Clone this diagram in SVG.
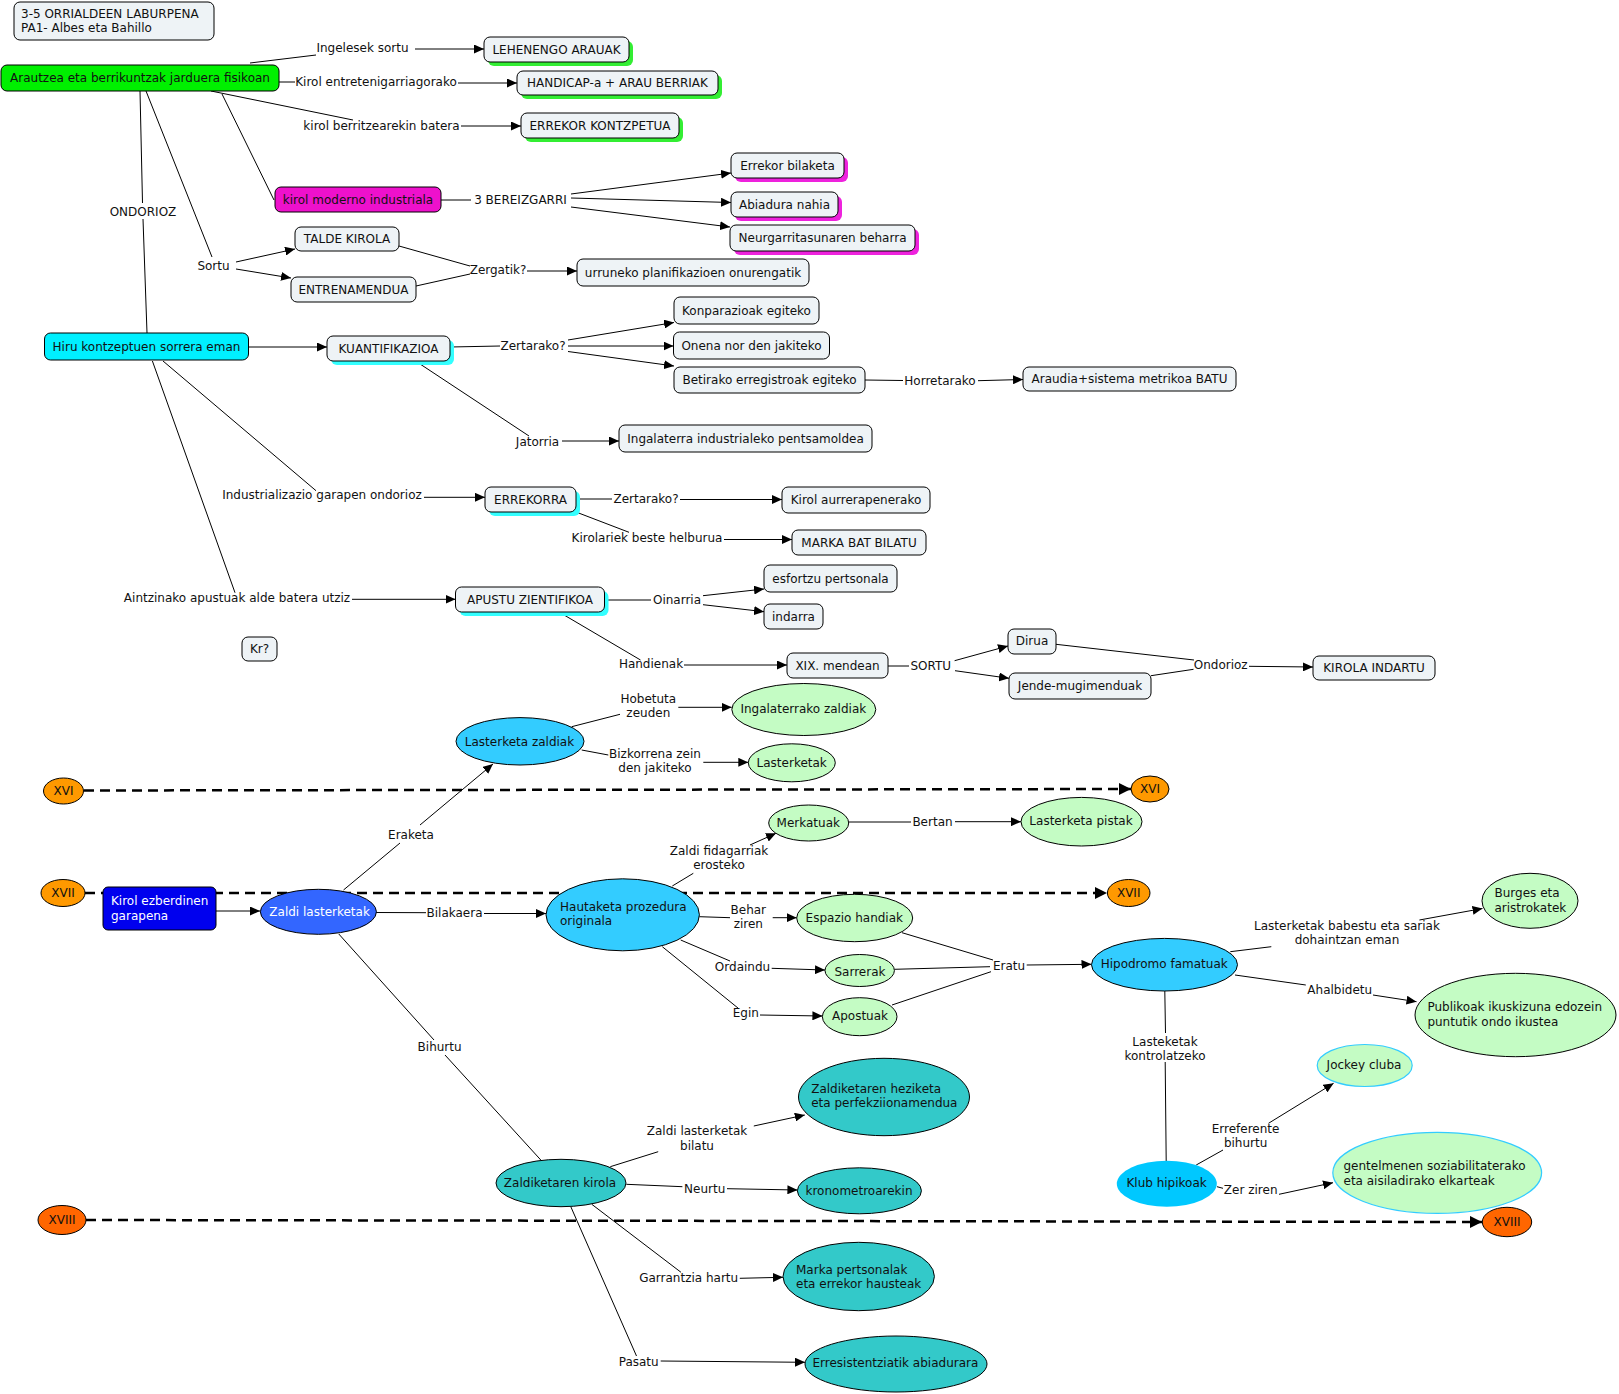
<svg xmlns="http://www.w3.org/2000/svg" width="1619" height="1394" viewBox="0 0 1619 1394">
<style>
text{font-family:"DejaVu Sans",Verdana,sans-serif;font-size:12px;fill:#111}
.c{text-anchor:middle}
.n{fill:#eef3f6;stroke:#000;stroke-width:1}
.sg{fill:#33ee33}.sm{fill:#ee22dd}.sc{fill:#33ffff}
.ln{stroke:#000;stroke-width:1;fill:none}
.ar{stroke:#000;stroke-width:1;fill:none;marker-end:url(#arr)}
.da{stroke:#000;stroke-width:2.5;fill:none;stroke-dasharray:10 6;marker-end:url(#arrd)}
.lg{fill:#c4fcc4;stroke:#000;stroke-width:1}
.tl{fill:#33c9c9;stroke:#000;stroke-width:1}
.cy{fill:#33ccff;stroke:#000;stroke-width:1}
.or{fill:#ff9900;stroke:#000;stroke-width:1}
.or2{fill:#ff6600;stroke:#000;stroke-width:1}
.w{fill:#fff}
</style>
<defs>
<marker id="arr" markerUnits="userSpaceOnUse" markerWidth="10" markerHeight="9" refX="10" refY="4.5" orient="auto"><path d="M0,0 L10,4.5 L0,9 z" fill="#000"/></marker>
<marker id="arrd" markerUnits="userSpaceOnUse" markerWidth="12" markerHeight="12" refX="12" refY="6" orient="auto"><path d="M0,0 L12,6 L0,12 z" fill="#000"/></marker>
</defs>
<rect width="1619" height="1394" fill="#fff"/>

<g id="timelines">
<path class="da" d="M84,790.5 L1131,789"/>
<path class="da" d="M85,893 L1107,893"/>
<path class="da" d="M86,1220 L1482,1222"/>
</g>

<g id="connectors">
<path class="ln" d="M250,63 L316,55"/><path class="ar" d="M415,49 L484,49"/>
<text class="c" x="362.5" y="52">Ingelesek sortu</text>
<path class="ln" d="M279,82 L295,82"/><path class="ar" d="M458,83 L517,83"/>
<text class="c" x="376" y="86">Kirol entretenigarriagorako</text>
<path class="ln" d="M211,91 L353,120"/><path class="ar" d="M461,126 L521,126"/>
<text class="c" x="381.5" y="130">kirol berritzearekin batera</text>
<path class="ln" d="M222,94 L274,200"/>
<path class="ln" d="M441,200 L471,200"/>
<text class="c" x="520.5" y="204">3 BEREIZGARRI</text>
<path class="ar" d="M571,194 L731,173"/><path class="ar" d="M571,198 L731,202.5"/><path class="ar" d="M571,207 L730,227"/>
<path class="ln" d="M140,91 L142.5,203"/><path class="ln" d="M143,219 L147,333"/>
<text class="c" x="143" y="215.5">ONDORIOZ</text>
<path class="ln" d="M146,91 L212,257"/>
<text class="c" x="213.5" y="269.5">Sortu</text>
<path class="ar" d="M236,262 L295,249"/><path class="ar" d="M236,269 L291,278"/>
<path class="ln" d="M399,246 L470,266"/><path class="ln" d="M416,286 L470,274"/>
<text class="c" x="498" y="274">Zergatik?</text>
<path class="ar" d="M527,271 L577,271"/>
<path class="ar" d="M249,347 L327,347"/>
<path class="ln" d="M450,347 L500,346"/>
<text class="c" x="533" y="350">Zertarako?</text>
<path class="ar" d="M568,340 L674,322.5"/><path class="ar" d="M568,346 L673.5,346"/><path class="ar" d="M568,351.5 L674,366"/>
<path class="ln" d="M415.5,361 L529,436"/>
<text class="c" x="537.5" y="445.7">Jatorria</text>
<path class="ar" d="M562,441 L619,441"/>
<path class="ln" d="M865,380 L903,380.5"/>
<text class="c" x="940" y="385">Horretarako</text>
<path class="ar" d="M978,380.7 L1023,379.5"/>
<path class="ln" d="M163,361 L316,490.7"/>
<text class="c" x="322" y="499">Industrializazio garapen ondorioz</text>
<path class="ar" d="M424,497.3 L485,497.3"/>
<path class="ln" d="M576,499 L612,499"/>
<text class="c" x="646" y="503">Zertarako?</text>
<path class="ar" d="M680,499.5 L782,499.5"/>
<path class="ln" d="M576,512 L629,532.3"/>
<text class="c" x="647" y="542">Kirolariek beste helburua</text>
<path class="ar" d="M724,539.5 L792,539.5"/>
<path class="ln" d="M152.4,361 L235,592.7"/>
<text class="c" x="237" y="601.7">Aintzinako apustuak alde batera utziz</text>
<path class="ar" d="M352,599.3 L455.5,599.3"/>
<path class="ln" d="M604,600 L651,600"/>
<text class="c" x="677" y="604">Oinarria</text>
<path class="ar" d="M703,595.7 L764,589"/><path class="ar" d="M703,604.7 L764,611.7"/>
<path class="ln" d="M559,612 L640.5,660"/>
<text class="c" x="651" y="668.3">Handienak</text>
<path class="ar" d="M684,665 L787,665"/>
<path class="ln" d="M888,666 L909,666"/>
<text class="c" x="930.7" y="670.3">SORTU</text>
<path class="ar" d="M954.6,660.7 L1008,646"/><path class="ar" d="M955,670.7 L1009,678.3"/>
<path class="ln" d="M1056,644.3 L1194,660"/><path class="ln" d="M1151,675.7 L1193.5,669.3"/>
<text class="c" x="1220.7" y="669">Ondorioz</text>
<path class="ar" d="M1249,666.3 L1313,667"/>

<path class="ar" d="M216,911 L260,911"/>
<path class="ln" d="M343.5,890 L400,843"/><path class="ar" d="M420,825 L493,764"/>
<text class="c" x="411" y="839">Eraketa</text>
<path class="ln" d="M571.7,726.7 L620,714.3"/><path class="ar" d="M678.3,707.3 L731.7,707.3"/>
<text class="c" x="648.3" y="703">Hobetuta</text><text class="c" x="648.3" y="717.3">zeuden</text>
<path class="ln" d="M581.7,750 L608.3,755"/><path class="ar" d="M703.3,762.3 L748.3,762.3"/>
<text class="c" x="655" y="758">Bizkorrena zein</text><text class="c" x="655" y="772.3">den jakiteko</text>
<path class="ln" d="M672.3,886 L693.3,873.3"/><path class="ar" d="M750,845 L776,833.3"/>
<text class="c" x="719" y="855">Zaldi fidagarriak</text><text class="c" x="719" y="869.3">erosteko</text>
<path class="ln" d="M376,912.5 L426,912.7"/><path class="ar" d="M484,913.5 L546,913.5"/>
<text class="c" x="454.5" y="916.7">Bilakaera</text>
<path class="ln" d="M849,822 L911,822"/><path class="ar" d="M955,821.7 L1021,821.7"/>
<text class="c" x="932.5" y="825.7">Bertan</text>
<path class="ln" d="M699.3,916.7 L730,917.7"/><path class="ar" d="M772.7,917.7 L796.7,917.7"/>
<text class="c" x="748.3" y="914">Behar</text><text class="c" x="748.3" y="928.3">ziren</text>
<path class="ln" d="M680.7,940 L730,961"/><path class="ar" d="M771.7,968.3 L825,970"/>
<text class="c" x="742.5" y="970.7">Ordaindu</text>
<path class="ln" d="M662.3,946.7 L738.3,1008.3"/><path class="ar" d="M760,1015 L822.4,1016"/>
<text class="c" x="745.8" y="1017.3">Egin</text>
<path class="ln" d="M902,932.7 L993,960"/><path class="ln" d="M894.4,969.3 L990,966.7"/><path class="ln" d="M892,1005 L991,971.7"/>
<text class="c" x="1009" y="969.7">Eratu</text>
<path class="ar" d="M1026.7,965 L1091.5,964.3"/>
<path class="ln" d="M1230.3,951.7 L1271.3,946.7"/><path class="ar" d="M1419.4,920 L1482.5,908.5"/>
<text class="c" x="1347" y="930">Lasterketak babestu eta sariak</text><text class="c" x="1347" y="944">dohaintzan eman</text>
<path class="ln" d="M1235,975 L1305.8,985"/><path class="ar" d="M1373,995 L1416.5,1001.7"/>
<text class="c" x="1339.7" y="994">Ahalbidetu</text>
<path class="ln" d="M1164.8,991 L1165.5,1033"/><path class="ln" d="M1165.2,1062 L1166.2,1161"/>
<text class="c" x="1165" y="1045.7">Lasteketak</text><text class="c" x="1165" y="1059.7">kontrolatzeko</text>
<path class="ln" d="M1196.2,1165 L1223,1150"/><path class="ar" d="M1268.5,1123.3 L1333.6,1083.3"/>
<text class="c" x="1245.6" y="1133.3">Erreferente</text><text class="c" x="1245.6" y="1147.3">bihurtu</text>
<path class="ln" d="M1217,1186.7 L1223,1188.3"/><path class="ar" d="M1279,1194.3 L1333,1182.7"/>
<text class="c" x="1250.7" y="1194">Zer ziren</text>
<path class="ln" d="M338.8,934 L434,1040"/><path class="ln" d="M445,1055 L540.8,1160"/>
<text class="c" x="439.6" y="1050.7">Bihurtu</text>
<path class="ln" d="M610.3,1166.7 L658.2,1151.7"/><path class="ar" d="M753.8,1126 L804.8,1115"/>
<text class="c" x="697" y="1134.7">Zaldi lasterketak</text><text class="c" x="697" y="1149.7">bilatu</text>
<path class="ln" d="M626.3,1184.3 L682.4,1186.7"/><path class="ar" d="M727,1188.7 L797.4,1190"/>
<text class="c" x="704.7" y="1193">Neurtu</text>
<path class="ln" d="M591.8,1204.3 L681,1272.3"/><path class="ar" d="M739.8,1278.3 L783,1277.3"/>
<text class="c" x="688.7" y="1281.7">Garrantzia hartu</text>
<path class="ln" d="M570.8,1206.7 L636.5,1356"/><path class="ar" d="M660.7,1361 L805,1362.3"/>
<text class="c" x="638.7" y="1365.7">Pasatu</text>
</g>

<g id="n-title"><rect class="n" x="14" y="2" width="200" height="38" rx="6"/><text x="21" y="18">3-5 ORRIALDEEN LABURPENA</text><text x="21" y="32">PA1- Albes eta Bahillo</text></g>
<g id="n-arautzea"><rect x="1" y="65" width="278" height="26" rx="6" fill="#00f000" stroke="#000"/><text class="c" x="140" y="81.5">Arautzea eta berrikuntzak jarduera fisikoan</text></g>
<g id="n-lehenengo"><rect class="sg" x="488" y="41" width="145" height="25" rx="6"/><rect class="n" x="484" y="37" width="145" height="25" rx="6"/><text class="c" x="556.5" y="53.5">LEHENENGO ARAUAK</text></g>
<g id="n-handicap"><rect class="sg" x="521" y="75" width="201" height="24" rx="6"/><rect class="n" x="517" y="71" width="201" height="24" rx="6"/><text class="c" x="617.5" y="87">HANDICAP-a + ARAU BERRIAK</text></g>
<g id="n-errekorkontz"><rect class="sg" x="525" y="117" width="158" height="25" rx="6"/><rect class="n" x="521" y="113" width="158" height="25" rx="6"/><text class="c" x="600" y="129.5">ERREKOR KONTZPETUA</text></g>
<g id="n-kirolmoderno"><rect x="275" y="187" width="166" height="25" rx="6" fill="#ee11cc" stroke="#000"/><text class="c" x="358" y="203.5">kirol moderno industriala</text></g>
<g id="n-errekorbil"><rect class="sm" x="735" y="157" width="113" height="25" rx="6"/><rect class="n" x="731" y="153" width="113" height="25" rx="6"/><text class="c" x="787.5" y="169.5">Errekor bilaketa</text></g>
<g id="n-abiadura"><rect class="sm" x="735" y="196" width="107" height="25" rx="6"/><rect class="n" x="731" y="192" width="107" height="25" rx="6"/><text class="c" x="784.5" y="208.5">Abiadura nahia</text></g>
<g id="n-neurg"><rect class="sm" x="734" y="229" width="185" height="26" rx="6"/><rect class="n" x="730" y="225" width="185" height="26" rx="6"/><text class="c" x="822.5" y="242">Neurgarritasunaren beharra</text></g>
<g id="n-talde"><rect class="n" x="295" y="227" width="104" height="24" rx="6"/><text class="c" x="347" y="243">TALDE KIROLA</text></g>
<g id="n-entrena"><rect class="n" x="291" y="277" width="125" height="25" rx="6"/><text class="c" x="353.5" y="293.5">ENTRENAMENDUA</text></g>
<g id="n-urruneko"><rect class="n" x="577" y="259" width="232" height="27" rx="6"/><text class="c" x="693" y="276.5">urruneko planifikazioen onurengatik</text></g>
<g id="n-hiru"><rect x="44.5" y="333" width="204" height="27" rx="6" fill="#00f0ff" stroke="#000"/><text class="c" x="146.5" y="350.5">Hiru kontzeptuen sorrera eman</text></g>
<g id="n-kuanti"><rect class="sc" x="331" y="340" width="123" height="25" rx="6"/><rect class="n" x="327" y="336" width="123" height="25" rx="6"/><text class="c" x="388.5" y="352.5">KUANTIFIKAZIOA</text></g>
<g id="n-konpar"><rect class="n" x="674" y="297" width="145" height="27" rx="6"/><text class="c" x="746.5" y="314.5">Konparazioak egiteko</text></g>
<g id="n-onena"><rect class="n" x="673.5" y="332" width="156" height="27" rx="6"/><text class="c" x="751.5" y="349.5">Onena nor den jakiteko</text></g>
<g id="n-betirako"><rect class="n" x="674" y="367" width="191" height="26" rx="6"/><text class="c" x="769.5" y="384">Betirako erregistroak egiteko</text></g>
<g id="n-araudia"><rect class="n" x="1023" y="367" width="213" height="24" rx="6"/><text class="c" x="1129.5" y="383">Araudia+sistema metrikoa BATU</text></g>
<g id="n-ingalaterra"><rect class="n" x="619" y="425" width="253" height="27" rx="6"/><text class="c" x="745.5" y="442.5">Ingalaterra industrialeko pentsamoldea</text></g>
<g id="n-errekorra"><rect class="sc" x="489" y="491" width="91" height="25" rx="6"/><rect class="n" x="485" y="487" width="91" height="25" rx="6"/><text class="c" x="530.5" y="503.5">ERREKORRA</text></g>
<g id="n-kirolaurre"><rect class="n" x="782" y="487" width="148" height="26" rx="6"/><text class="c" x="856" y="504">Kirol aurrerapenerako</text></g>
<g id="n-marka"><rect class="n" x="792" y="530" width="134" height="25" rx="6"/><text class="c" x="859" y="546.5">MARKA BAT BILATU</text></g>
<g id="n-apustu"><rect class="sc" x="459.5" y="591" width="149" height="25" rx="6"/><rect class="n" x="455.5" y="587" width="149" height="25" rx="6"/><text class="c" x="530" y="603.5">APUSTU ZIENTIFIKOA</text></g>
<g id="n-esfortzu"><rect class="n" x="764" y="565" width="133" height="27" rx="6"/><text class="c" x="830.5" y="582.5">esfortzu pertsonala</text></g>
<g id="n-indarra"><rect class="n" x="764" y="604" width="59" height="25" rx="6"/><text class="c" x="793.5" y="620.5">indarra</text></g>
<g id="n-kr"><rect class="n" x="242" y="637" width="35" height="24" rx="6"/><text class="c" x="259.5" y="653">Kr?</text></g>
<g id="n-xix"><rect class="n" x="787" y="653" width="101" height="25" rx="6"/><text class="c" x="837.5" y="669.5">XIX. mendean</text></g>
<g id="n-dirua"><rect class="n" x="1008" y="629" width="48" height="25" rx="6"/><text class="c" x="1032" y="645">Dirua</text></g>
<g id="n-jende"><rect class="n" x="1009" y="673" width="142" height="26" rx="6"/><text class="c" x="1080" y="690">Jende-mugimenduak</text></g>
<g id="n-kirolaindartu"><rect class="n" x="1313" y="656" width="122" height="24" rx="6"/><text class="c" x="1374" y="672">KIROLA INDARTU</text></g>

<g id="n-xvi-l"><ellipse class="or" cx="63.5" cy="791" rx="20" ry="13"/><text class="c" x="63.5" y="795">XVI</text></g>
<g id="n-xvii-l"><ellipse class="or" cx="63" cy="893" rx="22" ry="13.5"/><text class="c" x="63" y="897">XVII</text></g>
<g id="n-xviii-l"><ellipse class="or2" cx="62" cy="1220" rx="24" ry="14.5"/><text class="c" x="62" y="1224">XVIII</text></g>
<g id="n-xvi-r"><ellipse class="or" cx="1150" cy="789" rx="19" ry="13"/><text class="c" x="1150" y="793">XVI</text></g>
<g id="n-xvii-r"><ellipse class="or" cx="1128.7" cy="893" rx="21.3" ry="13.5"/><text class="c" x="1128.7" y="897">XVII</text></g>
<g id="n-xviii-r"><ellipse class="or2" cx="1507" cy="1222" rx="24.7" ry="14.7"/><text class="c" x="1507" y="1226">XVIII</text></g>
<g id="n-kirolezb"><rect x="103" y="887" width="113" height="43" rx="5" fill="#0000ee" stroke="#000"/><text x="111" y="904.7" style="fill:#fff">Kirol ezberdinen</text><text x="111" y="919.7" style="fill:#fff">garapena</text></g>
<g id="n-zaldilast"><ellipse cx="318.4" cy="911.8" rx="58" ry="22.5" fill="#3366ff" stroke="#000"/><text class="c" x="319.6" y="916.3" style="fill:#fff">Zaldi lasterketak</text></g>
<g id="n-lastzaldiak"><ellipse class="cy" cx="520" cy="741.3" rx="64" ry="23.7"/><text class="c" x="519.5" y="745.7">Lasterketa zaldiak</text></g>
<g id="n-ingzaldiak"><ellipse class="lg" cx="803.8" cy="709.5" rx="72" ry="26"/><text class="c" x="803.3" y="713">Ingalaterrako zaldiak</text></g>
<g id="n-lasterketak"><ellipse class="lg" cx="791.8" cy="762.8" rx="43.5" ry="19"/><text class="c" x="791.7" y="766.7">Lasterketak</text></g>
<g id="n-merkatuak"><ellipse class="lg" cx="808.7" cy="823" rx="40" ry="18"/><text class="c" x="808.3" y="826.7">Merkatuak</text></g>
<g id="n-hautaketa"><ellipse class="cy" cx="622.7" cy="914.8" rx="76.7" ry="36"/><text x="560" y="910.7">Hautaketa prozedura</text><text x="560" y="925">originala</text></g>
<g id="n-espazio"><ellipse class="lg" cx="854.7" cy="918" rx="58" ry="23.7"/><text class="c" x="854.3" y="921.7">Espazio handiak</text></g>
<g id="n-sarrerak"><ellipse class="lg" cx="859.7" cy="970.5" rx="34.7" ry="16"/><text class="c" x="860" y="975.7">Sarrerak</text></g>
<g id="n-apostuak"><ellipse class="lg" cx="859.7" cy="1016.7" rx="37.3" ry="19"/><text class="c" x="860" y="1019.7">Apostuak</text></g>
<g id="n-pistak"><ellipse class="lg" cx="1081.5" cy="821.7" rx="60.5" ry="24.3"/><text class="c" x="1081" y="825">Lasterketa pistak</text></g>
<g id="n-burges"><ellipse class="lg" cx="1530" cy="900.8" rx="48" ry="27.5"/><text x="1494.5" y="897.3">Burges eta</text><text x="1494.5" y="911.7">aristrokatek</text></g>
<g id="n-hipodromo"><ellipse class="cy" cx="1164.5" cy="964.7" rx="73" ry="26.3"/><text class="c" x="1164.2" y="968">Hipodromo famatuak</text></g>
<g id="n-publikoak"><ellipse class="lg" cx="1515.5" cy="1015" rx="100.5" ry="41.7"/><text x="1427.4" y="1010.5">Publikoak ikuskizuna edozein</text><text x="1427.4" y="1025.5">puntutik ondo ikustea</text></g>
<g id="n-jockey"><ellipse cx="1364.7" cy="1065.5" rx="47.5" ry="21" fill="#c4fcc4" stroke="#33ccff" stroke-width="1.2"/><text class="c" x="1364" y="1069">Jockey cluba</text></g>
<g id="n-klub"><ellipse cx="1166.8" cy="1183.7" rx="50" ry="23" fill="#00c8ff"/><text class="c" x="1166.6" y="1186.7">Klub hipikoak</text></g>
<g id="n-gentel"><ellipse cx="1437.2" cy="1172.8" rx="104.4" ry="40.5" fill="#c4fcc4" stroke="#33ccff" stroke-width="1.2"/><text x="1343.5" y="1169.7">gentelmenen soziabilitaterako</text><text x="1343.5" y="1185">eta aisiladirako elkarteak</text></g>
<g id="n-heziketa"><ellipse class="tl" cx="884" cy="1097" rx="85.5" ry="38.7"/><text x="811.2" y="1093">Zaldiketaren heziketa</text><text x="811.2" y="1107.3">eta perfekziionamendua</text></g>
<g id="n-kirola"><ellipse class="tl" cx="561" cy="1183" rx="65" ry="23.7"/><text class="c" x="560" y="1187.3">Zaldiketaren kirola</text></g>
<g id="n-krono"><ellipse class="tl" cx="859.4" cy="1190.8" rx="62" ry="23"/><text class="c" x="859" y="1194.7">kronometroarekin</text></g>
<g id="n-markapert"><ellipse class="tl" cx="858.7" cy="1276.5" rx="75.7" ry="34.2"/><text x="796" y="1274">Marka pertsonalak</text><text x="796" y="1288.3">eta errekor hausteak</text></g>
<g id="n-erresist"><ellipse class="tl" cx="896" cy="1364" rx="91" ry="28"/><text class="c" x="895.4" y="1367.3">Erresistentziatik abiadurara</text></g>
</svg>
